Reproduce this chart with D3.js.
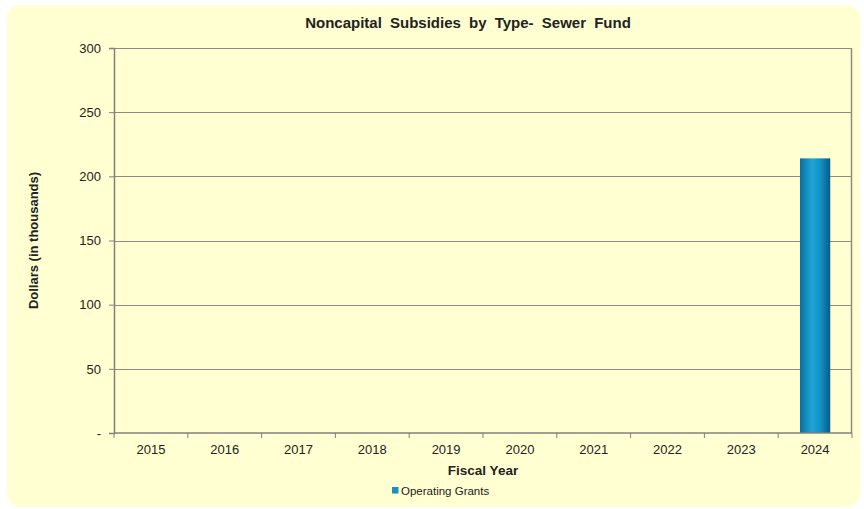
<!DOCTYPE html>
<html>
<head>
<meta charset="utf-8">
<script src="https://cdn.jsdelivr.net/npm/d3@7"></script>
<style>
  html, body { margin: 0; padding: 0; background: #ffffff; }
  svg { display: block; }
  text { font-family: Arial, "Liberation Sans", sans-serif; fill: #222; }
</style>
</head>
<body>
<svg id="chart" width="864" height="509"></svg>
<script>
// Noncapital subsidies by type, Sewer Fund (dollars in thousands)
const years = ["2015", "2016", "2017", "2018", "2019", "2020", "2021", "2022", "2023", "2024"];
const operatingGrants = [0, 0, 0, 0, 0, 0, 0, 0, 0, 214];
const yTicks = [0, 50, 100, 150, 200, 250, 300];
const seriesName = "Operating Grants";
const chartTitle = "Noncapital Subsidies by Type- Sewer Fund";
const xTitle = "Fiscal Year";
const yTitle = "Dollars (in thousands)";

const svg = d3.select("#chart");
const margin = { left: 114, right: 12, top: 48, bottom: 76 };
const W = 864, H = 509;
const plotW = W - margin.left - margin.right;
const plotH = H - margin.top - margin.bottom;

// Panel background
svg.append("rect")
  .attr("x", 7).attr("y", 5).attr("width", 853).attr("height", 502)
  .attr("rx", 14).attr("ry", 14)
  .attr("fill", "#ffffd1");

const defs = svg.append("defs");
const grad = defs.append("linearGradient").attr("id", "barGrad")
  .attr("x1", "0%").attr("x2", "100%").attr("y1", "0%").attr("y2", "0%");
grad.append("stop").attr("offset", "0%").attr("stop-color", "#0b6f9f");
grad.append("stop").attr("offset", "40%").attr("stop-color", "#1ea6d6");
grad.append("stop").attr("offset", "70%").attr("stop-color", "#118ec2");
grad.append("stop").attr("offset", "100%").attr("stop-color", "#085a84");

const g = svg.append("g").attr("transform", `translate(${margin.left},${margin.top})`);

const x = d3.scaleBand().domain(years).range([0, plotW]).paddingInner(0.59).paddingOuter(0.295);
const xBound = d3.scaleBand().domain(years).range([0, plotW]);
const y = d3.scaleLinear().domain([0, 300]).range([plotH, 0]);

// Horizontal gridlines
g.append("g").selectAll("line")
  .data(yTicks.filter(d => d > 0))
  .join("line")
  .attr("x1", 0).attr("x2", plotW)
  .attr("y1", d => Math.round(y(d)) + 0.5).attr("y2", d => Math.round(y(d)) + 0.5)
  .attr("stroke", "#8c8c84").attr("stroke-width", 1);

// Right border of plot area
g.append("line")
  .attr("x1", plotW - 0.5).attr("x2", plotW - 0.5)
  .attr("y1", 0).attr("y2", plotH)
  .attr("stroke", "#8c8c84").attr("stroke-width", 1.5);

// Bars
g.append("g").selectAll("rect")
  .data(years.map((yr, i) => ({ yr, v: operatingGrants[i] })).filter(d => d.v > 0))
  .join("rect")
  .attr("x", d => x(d.yr))
  .attr("width", x.bandwidth())
  .attr("y", d => y(d.v))
  .attr("height", d => plotH - y(d.v))
  .attr("fill", "url(#barGrad)");

// Y axis
const yAxis = d3.axisLeft(y).tickValues(yTicks).tickSize(5).tickPadding(8)
  .tickFormat(d => d === 0 ? "-" : d3.format("d")(d));
const ya = g.append("g").call(yAxis);
ya.select(".domain").attr("stroke", "#808080").attr("stroke-width", 1.5);
ya.selectAll(".tick line").attr("stroke", "#808080");
ya.selectAll(".tick text").attr("font-size", 13).attr("fill", "#333").style("font-family", "Arial, 'Liberation Sans', sans-serif");

// X axis with ticks at category boundaries
const xa = g.append("g").attr("transform", `translate(0,${plotH})`);
xa.append("line").attr("x1", 0).attr("x2", plotW).attr("y1", 0).attr("y2", 0)
  .attr("stroke", "#808080").attr("stroke-width", 1.5);
const bounds = years.map(d => xBound(d)).concat([plotW]);
xa.selectAll("line.tk").data(bounds).join("line").attr("class", "tk")
  .attr("x1", d => d).attr("x2", d => d).attr("y1", 0).attr("y2", 5)
  .attr("stroke", "#808080");
xa.selectAll("text").data(years).join("text")
  .attr("x", d => xBound(d) + xBound.bandwidth() / 2)
  .attr("y", 20.5)
  .attr("text-anchor", "middle")
  .attr("font-size", 13).attr("fill", "#333")
  .text(d => d);

// Titles
svg.append("text")
  .attr("x", 468).attr("y", 28)
  .attr("text-anchor", "middle")
  .attr("font-size", 15).attr("font-weight", "bold").attr("fill", "#111")
  .attr("word-spacing", 4)
  .text(chartTitle);

svg.append("text")
  .attr("x", margin.left + plotW / 2).attr("y", 475)
  .attr("text-anchor", "middle")
  .attr("font-size", 13.5).attr("font-weight", "bold").attr("fill", "#222")
  .text(xTitle);

svg.append("text")
  .attr("transform", `translate(38,${margin.top + plotH / 2}) rotate(-90)`)
  .attr("text-anchor", "middle")
  .attr("font-size", 13).attr("font-weight", "bold").attr("fill", "#222")
  .text(yTitle);

// Legend
const lg = svg.append("g").attr("transform", "translate(392,487)");
lg.append("rect").attr("x", 0).attr("y", 0).attr("width", 6.5).attr("height", 6.5).attr("fill", "#1a8fc0");
lg.append("text").attr("x", 9).attr("y", 7.5)
  .attr("font-size", 11.5).attr("fill", "#333")
  .text(seriesName);
</script>
</body>
</html>
